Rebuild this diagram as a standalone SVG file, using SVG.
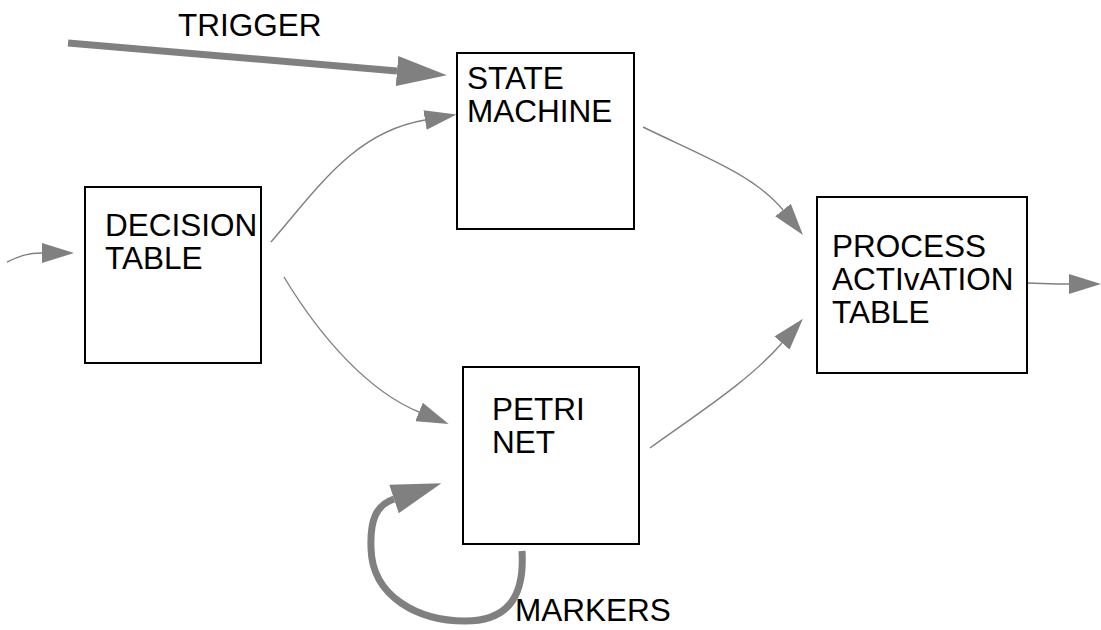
<svg xmlns="http://www.w3.org/2000/svg" width="1101" height="630" viewBox="0 0 1101 630">
  <style>
    .box { fill: #ffffff; stroke: #000000; stroke-width: 2; }
    .lbl { font-family: "Liberation Sans", Arial, sans-serif; font-size: 31.5px; fill: #000000; }
    .thin { fill: none; stroke: #808080; stroke-width: 1.4; }
    .thick { fill: none; stroke: #808080; stroke-width: 7; }
  </style>
  <defs>
    <marker id="ah" markerUnits="userSpaceOnUse" viewBox="0 0 32 20" markerWidth="32" markerHeight="20" refX="0" refY="10" orient="auto">
      <path d="M0,0 L32,10 L0,20 z" fill="#808080"/>
    </marker>
    <marker id="ahBig" markerUnits="userSpaceOnUse" viewBox="0 0 50 30" markerWidth="50" markerHeight="30" refX="0" refY="15" orient="auto">
      <path d="M0,0 L50,15 L0,30 z" fill="#808080"/>
    </marker>
  </defs>
  <rect width="1101" height="630" fill="#ffffff"/>

  <g id="connectors">
    <path id="trigger" class="thick" d="M68,43 L397,71" marker-end="url(#ahBig)"/>
    <path id="input" class="thin" d="M7,262 C18,257 26,253 42,253" marker-end="url(#ah)"/>
    <path id="dt-sm" class="thin" d="M271,242 C320,185 355,132 425,120" marker-end="url(#ah)"/>
    <path id="dt-pn" class="thin" d="M284,277 C322,340 370,392 419,412" marker-end="url(#ah)"/>
    <path id="sm-pat" class="thin" d="M643,127 C700,155 755,175 783,210" marker-end="url(#ah)"/>
    <path id="pn-pat" class="thin" d="M650,448 C700,412 750,380 782,343" marker-end="url(#ah)"/>
    <path id="output" class="thin" d="M1027,283 L1057,284 L1069,284" marker-end="url(#ah)"/>
    <path id="markers-loop" class="thick" d="M522,551 C525,600 505,621 465,621 C420,621 372,598 371,548 C370,520 376,505 394,499" marker-end="url(#ahBig)"/>
  </g>

  <g id="trigger-label">
    <text class="lbl" x="178" y="36">TRIGGER</text>
  </g>

  <g id="state-machine">
    <rect class="box" x="457" y="53" width="177" height="176"/>
    <text class="lbl" x="467" y="89">STATE</text>
    <text class="lbl" x="467" y="122">MACHINE</text>
  </g>

  <g id="decision-table">
    <rect class="box" x="85" y="187" width="176" height="176"/>
    <text class="lbl" x="105" y="236">DECISION</text>
    <text class="lbl" x="105" y="269">TABLE</text>
  </g>

  <g id="petri-net">
    <rect class="box" x="463" y="367" width="176" height="177"/>
    <text class="lbl" x="492" y="420">PETRI</text>
    <text class="lbl" x="492" y="453">NET</text>
  </g>

  <g id="process-activation-table">
    <rect class="box" x="817" y="197" width="210" height="176"/>
    <text class="lbl" x="832" y="257">PROCESS</text>
    <text class="lbl" x="832" y="290">ACTIvATION</text>
    <text class="lbl" x="832" y="323">TABLE</text>
  </g>

  <g id="markers-label">
    <text class="lbl" x="515" y="621">MARKERS</text>
  </g>
</svg>
